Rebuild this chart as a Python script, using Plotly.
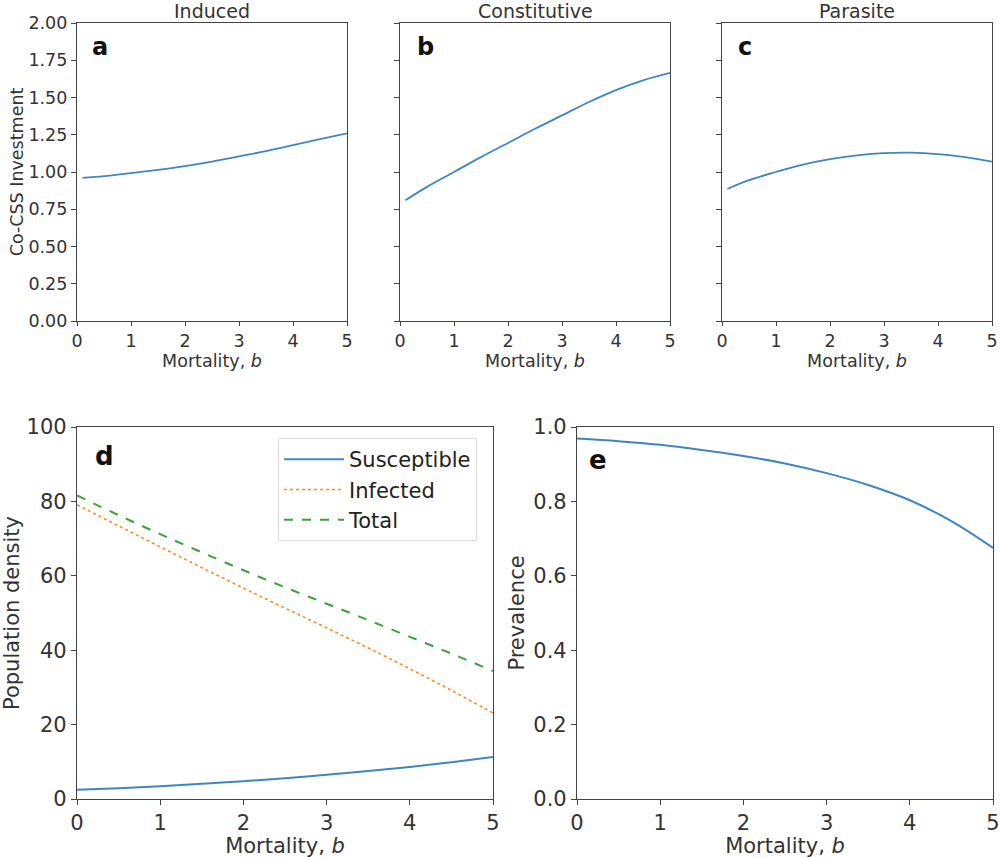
import plotly.graph_objects as go

# ---------------- data ----------------
x_top = [0.1, 0.5, 1, 1.5, 2, 2.5, 3, 3.5, 4, 4.5, 5]
induced = [0.96, 0.972, 0.993, 1.015, 1.04, 1.07, 1.105, 1.14, 1.18, 1.22, 1.26]
constitutive = [0.81, 0.90, 1.00, 1.10, 1.195, 1.29, 1.38, 1.47, 1.55, 1.615, 1.665]
parasite = [0.886, 0.945, 1.00, 1.05, 1.087, 1.112, 1.127, 1.13, 1.12, 1.10, 1.07]

x_bot = [0, 0.5, 1, 1.5, 2, 2.5, 3, 3.5, 4, 4.5, 5]
susceptible = [2.5, 2.9, 3.4, 4.1, 4.8, 5.6, 6.5, 7.5, 8.6, 9.9, 11.3]
infected = [79.1, 73.4, 67.8, 62.2, 56.7, 51.3, 46.0, 40.6, 35.0, 29.2, 23.1]
total = [81.6, 76.3, 71.2, 66.3, 61.5, 56.9, 52.5, 48.1, 43.6, 39.1, 34.4]
prevalence = [0.969, 0.962, 0.952, 0.938, 0.922, 0.902, 0.876, 0.844, 0.803, 0.747, 0.675]

top_titles = ["Induced", "Constitutive", "Parasite"]
panel_letters = ["a", "b", "c", "d", "e"]
x_ticks = [0, 1, 2, 3, 4, 5]

# ---------------- styling ----------------
W, H = 1000, 858
ML, MR, MT, MB = 50, 5, 15, 50
PW, PH = W - ML - MR, H - MT - MB
FONT = "DejaVu Sans"
BLUE = "#3f86c4"
ORANGE = "#ff8a1e"
GREEN = "#3aa23a"
AX = "#444444"
TOP_FS = 17.5
BOT_FS = 21


def dx(a, b):
    return [max(0, (a - ML) / PW), min(1, (b - ML) / PW)]


def dy(bottom, top):
    return [max(0, (H - MB - bottom) / PH), min(1, (H - MB - top) / PH)]


fig = go.Figure()

top_dom_y = dy(321, 23)
top_dom_x = [dx(77, 347), dx(400, 670), dx(722, 992)]
bot_dom_y = dy(799, 427)
bot_dom_x = [dx(77, 493), dx(577, 993)]

top_series = [induced, constitutive, parasite]
for i, ys in enumerate(top_series):
    n = i + 1
    fig.add_trace(go.Scatter(x=x_top, y=ys, mode="lines", line=dict(color=BLUE, width=1.8, shape="spline"),
                             xaxis=f"x{n if n > 1 else ''}", yaxis=f"y{n if n > 1 else ''}", showlegend=False))

# panel d
fig.add_trace(go.Scatter(x=x_bot, y=susceptible, mode="lines", name="Susceptible",
                         line=dict(color=BLUE, width=2, shape="spline"), xaxis="x4", yaxis="y4"))
fig.add_trace(go.Scatter(x=x_bot, y=infected, mode="lines", name="Infected",
                         line=dict(color=ORANGE, width=1.6, dash="dot", shape="spline"), xaxis="x4", yaxis="y4"))
fig.add_trace(go.Scatter(x=x_bot, y=total, mode="lines", name="Total",
                         line=dict(color=GREEN, width=2, dash="dash", shape="spline"), xaxis="x4", yaxis="y4"))
# panel e
fig.add_trace(go.Scatter(x=x_bot, y=prevalence, mode="lines", line=dict(color=BLUE, width=2, shape="spline"),
                         xaxis="x5", yaxis="y5", showlegend=False))


def xaxis(dom, anchor, fs, standoff, ticklen=5):
    return dict(domain=dom, anchor=anchor, range=[0, 5], tickvals=x_ticks, ticks="outside", ticklen=ticklen,
                tickcolor=AX, showline=True, linecolor=AX, linewidth=1.2, mirror=True, showgrid=False,
                zeroline=False, automargin=False, tickfont=dict(size=fs, color="#333"),
                title=dict(text="Mortality, <i>b</i>", font=dict(size=fs, color="#333"), standoff=standoff))


def yaxis(dom, anchor, fs, rng, dtick, fmt, labels=True, title=None, standoff=4):
    d = dict(domain=dom, anchor=anchor, range=rng, dtick=dtick, tick0=0, tickformat=fmt, ticks="outside",
             ticklen=5, tickcolor=AX, showline=True, linecolor=AX, linewidth=1.2, mirror=True, showgrid=False,
             zeroline=False, automargin=False, showticklabels=labels, tickfont=dict(size=fs, color="#333"))
    if title:
        d["title"] = dict(text=title, font=dict(size=fs, color="#333"), standoff=standoff)
    return d


layout = dict(width=W, height=H, margin=dict(l=ML, r=MR, t=MT, b=MB), plot_bgcolor="white",
              paper_bgcolor="white", font=dict(family=FONT, color="#333"))
layout["xaxis"] = xaxis(top_dom_x[0], "y", TOP_FS, 2, 4)
layout["yaxis"] = yaxis(top_dom_y, "x", TOP_FS, [0, 2], 0.25, ".2f", True, "Co-CSS Investment", 0)
layout["xaxis2"] = xaxis(top_dom_x[1], "y2", TOP_FS, 2, 4)
layout["yaxis2"] = yaxis(top_dom_y, "x2", TOP_FS, [0, 2], 0.25, ".2f", False)
layout["xaxis3"] = xaxis(top_dom_x[2], "y3", TOP_FS, 2, 4)
layout["yaxis3"] = yaxis(top_dom_y, "x3", TOP_FS, [0, 2], 0.25, ".2f", False)
layout["xaxis4"] = xaxis(bot_dom_x[0], "y4", BOT_FS, 2)
layout["yaxis4"] = yaxis(bot_dom_y, "x4", BOT_FS, [0, 100], 20, "d", True, "Population density", 4)
layout["xaxis5"] = xaxis(bot_dom_x[1], "y5", BOT_FS, 2)
layout["yaxis5"] = yaxis(bot_dom_y, "x5", BOT_FS, [0, 1], 0.2, ".1f", True, "Prevalence", 2)

layout["legend"] = dict(x=(278 - ML) / PW, y=(H - MB - 438) / PH, xanchor="left", yanchor="top", bgcolor="white",
                        bordercolor="#dddddd", borderwidth=1, font=dict(size=21, color="#222"),
                        tracegroupgap=0, itemwidth=60)

ann = []
title_y = (H - MB - 11) / PH
for i, t in enumerate(top_titles):
    ann.append(dict(text=t, x=sum(top_dom_x[i]) / 2, y=title_y, xref="paper", yref="paper",
                    xanchor="center", yanchor="middle", showarrow=False,
                    font=dict(size=19, color="#333")))
letter_pos = [("x domain", "y domain", 0.085, 0.92, 24), ("x2 domain", "y2 domain", 0.093, 0.92, 24),
              ("x3 domain", "y3 domain", 0.085, 0.92, 24), ("x4 domain", "y4 domain", 0.065, 0.922, 26),
              ("x5 domain", "y5 domain", 0.05, 0.911, 26)]
for letter, (xr, yr, xx, yy, fs) in zip(panel_letters, letter_pos):
    ann.append(dict(text=f"<b>{letter}</b>", x=xx, y=yy, xref=xr, yref=yr, xanchor="center", yanchor="middle",
                    showarrow=False, font=dict(size=fs, color="#111")))
layout["annotations"] = ann

fig.update_layout(**layout)
fig.write_html("out.html", config={"displayModeBar": False},
               post_script="document.body.style.margin='0';document.body.style.overflow='hidden';")
